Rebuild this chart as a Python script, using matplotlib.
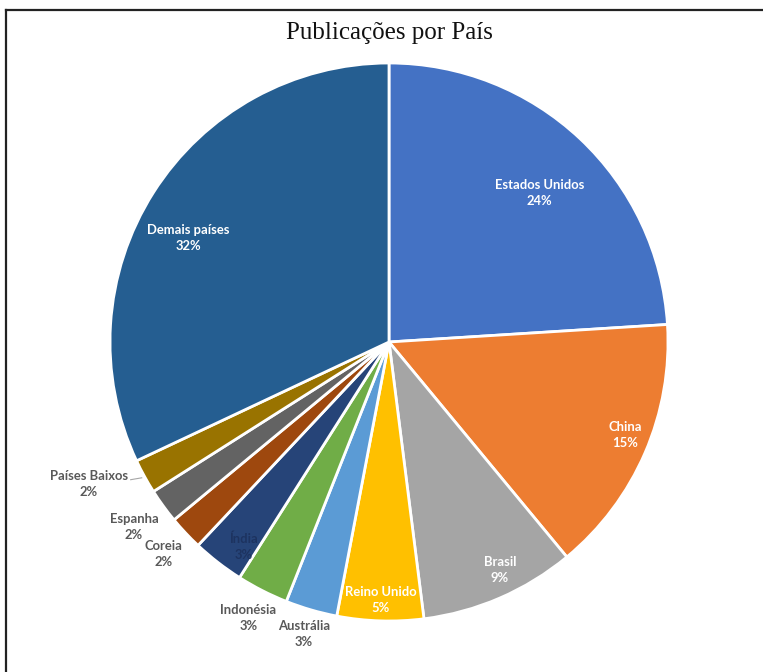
import numpy as np
import matplotlib
matplotlib.use("Agg")
import matplotlib.pyplot as plt
from matplotlib.lines import Line2D

# Share of publications by country
countries = ["Estados Unidos", "China", "Brasil", "Reino Unido", "Austrália",
             "Indonésia", "Índia", "Coreia", "Espanha", "Países Baixos",
             "Demais países"]
shares = [24, 15, 9, 5, 3, 3, 3, 2, 2, 2, 32]

colors = ["#4472C4", "#ED7D31", "#A5A5A5", "#FFC000", "#5B9BD5",
          "#70AD47", "#264478", "#9E480E", "#636363", "#997300", "#255E91"]
# radial position of each label (fraction of radius) and its text colour
label_r = [0.76, 0.91, 0.91, 0.925, 1.09, 1.11, 0.90, 1.11, 1.13, 1.19, 0.81]
label_ang_shift = [-2, 2, 2.5, 0, 0, 0, 2.5, 0, 0, -3.5, 5]
label_col = ["white", "white", "white", "white", "#595959", "#595959",
             "#1d3360", "#595959", "#595959", "#595959", "white"]

W, H = 763, 672
fig = plt.figure(figsize=(W / 100, H / 100), dpi=100)
fig.patch.set_facecolor("white")

# chart frame (top and left edges visible)
fig.add_artist(Line2D([6 / W, 6 / W], [0, 1 - 10 / H], color="#222222",
                      lw=1.6, transform=fig.transFigure))
fig.add_artist(Line2D([6 / W, 1], [1 - 10 / H, 1 - 10 / H], color="#222222",
                      lw=1.6, transform=fig.transFigure))

cx, cy, R = 389, 342, 279
ax = fig.add_axes([(cx - R) / W, (H - cy - R) / H, 2 * R / W, 2 * R / H])
wedges, _ = ax.pie(shares, colors=colors, startangle=90, counterclock=False,
                   wedgeprops=dict(edgecolor="white", linewidth=2))
ax.set_xlim(-1, 1)
ax.set_ylim(-1, 1)
ax.set_aspect("equal")
ax.axis("off")

for w, name, val, r, da, col in zip(wedges, countries, shares, label_r,
                                    label_ang_shift, label_col):
    mid = np.deg2rad((w.theta1 + w.theta2) / 2 + da)
    x, y = r * np.cos(mid), r * np.sin(mid)
    ax.text(x, y, f"{name}\n{val}%", ha="center", va="center",
            color=col, fontsize=9.4, fontweight="bold", family="Lato",
            linespacing=1.4, clip_on=False)
    if name == "Países Baixos":
        mid0 = np.deg2rad((w.theta1 + w.theta2) / 2)
        ax.plot([x + 0.15, 1.0 * np.cos(mid0) - 0.01],
                [y + 0.015, 1.0 * np.sin(mid0) - 0.005],
                color="#A6A6A6", lw=0.8, clip_on=False)

fig.text(389 / W, 1 - 33 / H, "Publicações por País", ha="center",
         va="center", fontsize=18, family="Liberation Serif", color="#111111")

fig.savefig("out.png", dpi=100, facecolor="white")
